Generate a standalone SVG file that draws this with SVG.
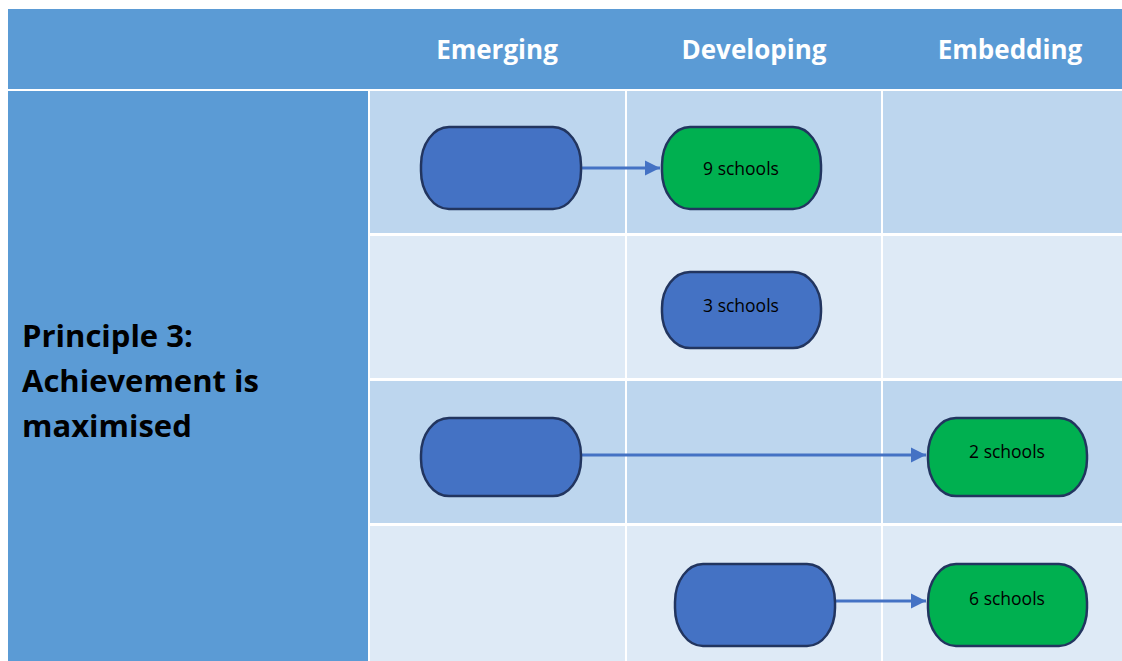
<svg xmlns="http://www.w3.org/2000/svg" width="1122" height="661" viewBox="0 0 1122 661">
<defs>
<style>
.hdr{fill:#5B9BD5}
.dark{fill:#BDD6EE}
.light{fill:#DEEAF6}
.h{font-family:"Open Sans","Noto Sans",sans-serif;font-weight:bold;font-size:26px;fill:#fff;text-anchor:middle}
.p{font-family:"Open Sans","Noto Sans",sans-serif;font-weight:bold;font-size:31px;fill:#000}
.blue{fill:#4472C4;stroke:#22355F;stroke-width:2.5}
.green{fill:#00B050;stroke:#22355F;stroke-width:2.5}
.t{font-family:"Open Sans","Noto Sans",sans-serif;font-size:17.5px;fill:#000;text-anchor:middle;dominant-baseline:central}
.c{stroke:#4472C4;stroke-width:3;fill:none;marker-end:url(#ah)}
</style>
<marker id="ah" markerWidth="6" markerHeight="6" refX="5" refY="3" orient="auto" markerUnits="strokeWidth">
<path d="M0,0.5 L5,3 L0,5.5 Z" fill="#4472C4"/>
</marker>
</defs>
<rect width="1122" height="661" fill="#fff"/>
<g id="table">
<rect class="hdr" x="8" y="9" width="1114" height="80"/>
<rect class="hdr" x="8" y="91" width="360" height="570"/>
<rect class="dark" x="370" y="91" width="255" height="142"/>
<rect class="dark" x="627" y="91" width="254" height="142"/>
<rect class="dark" x="883" y="91" width="239" height="142"/>
<rect class="light" x="370" y="236" width="255" height="142"/>
<rect class="light" x="627" y="236" width="254" height="142"/>
<rect class="light" x="883" y="236" width="239" height="142"/>
<rect class="dark" x="370" y="381" width="255" height="142"/>
<rect class="dark" x="627" y="381" width="254" height="142"/>
<rect class="dark" x="883" y="381" width="239" height="142"/>
<rect class="light" x="370" y="526" width="255" height="135"/>
<rect class="light" x="627" y="526" width="254" height="135"/>
<rect class="light" x="883" y="526" width="239" height="135"/>
<text class="h" x="497" y="59">Emerging</text>
<text class="h" x="754" y="59">Developing</text>
<text class="h" x="1010" y="59">Embedding</text>
<text class="p" x="22" y="347">Principle 3:</text>
<text class="p" x="22" y="392">Achievement is</text>
<text class="p" x="22" y="437">maximised</text>
</g>
<g id="connectors">
<line class="c" x1="581" y1="168" x2="660" y2="168"/>
<line class="c" x1="581" y1="455" x2="926" y2="455"/>
<line class="c" x1="835" y1="601" x2="926" y2="601"/>
</g>
<g id="n1"><rect class="blue" x="421" y="127" width="160" height="82" rx="28" ry="38"/></g>
<g id="n2"><rect class="green" x="662" y="127" width="159" height="82" rx="28" ry="38"/><text class="t" x="741" y="168">9 schools</text></g>
<g id="n3"><rect class="blue" x="662" y="272" width="159" height="76" rx="28" ry="36"/><text class="t" x="741" y="305">3 schools</text></g>
<g id="n4"><rect class="blue" x="421" y="418" width="160" height="78" rx="28" ry="37"/></g>
<g id="n5"><rect class="green" x="928" y="418" width="159" height="78" rx="28" ry="37"/><text class="t" x="1007" y="451">2 schools</text></g>
<g id="n6"><rect class="blue" x="675" y="564" width="160" height="82" rx="28" ry="38"/></g>
<g id="n7"><rect class="green" x="928" y="564" width="159" height="82" rx="28" ry="38"/><text class="t" x="1007" y="598">6 schools</text></g>
</svg>
